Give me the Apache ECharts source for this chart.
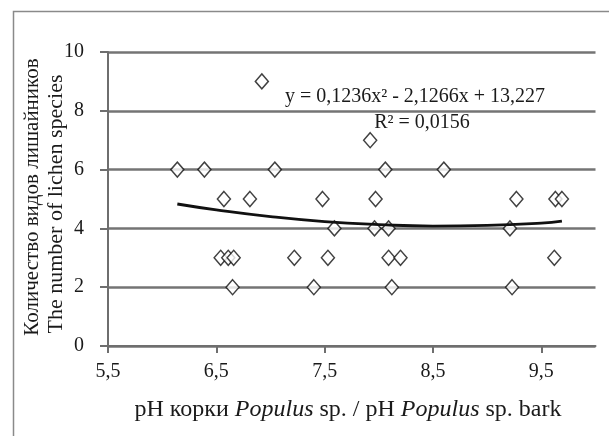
<!DOCTYPE html>
<html>
<head>
    <meta charset="utf-8">
    <title>ECharts</title>
    <script src="https://cdn.jsdelivr.net/npm/echarts@6/dist/echarts.min.js"></script>
</head>
<body style="margin:0;background:#fff;">
<div id="main" style="width: 609px;height:436px;"></div>
<script type="text/javascript">
  // pH коры и число видов лишайников
  var phValues = [6.92, 6.14, 6.39, 7.04, 8.06, 8.60, 7.92,
    6.57, 6.81, 7.48, 7.97, 9.27, 9.63, 9.69,
    7.59, 7.96, 8.09, 9.21,
    6.54, 6.61, 6.66, 7.22, 7.53, 8.09, 8.20, 9.62,
    6.65, 7.40, 8.12, 9.23];
  var speciesCounts = [9, 6, 6, 6, 6, 6, 7,
    5, 5, 5, 5, 5, 5, 5,
    4, 4, 4, 4,
    3, 3, 3, 3, 3, 3, 3, 3,
    2, 2, 2, 2];
  // линия тренда (полином 2-й степени), точки
  var trendX = [6.14, 6.5, 7.0, 7.5, 8.0, 8.5, 9.0, 9.5, 9.69];
  var trendY = [4.83, 4.63, 4.40, 4.23, 4.13, 4.08, 4.10, 4.18, 4.25];
  var xTicks = ['5,5', '6,5', '7,5', '8,5', '9,5'];
  var equationText = 'y = 0,1236x² - 2,1266x + 13,227';
  var r2Text = 'R² = 0,0156';

  var points = phValues.map(function (x, i) { return [x, speciesCounts[i]]; });
  var trend = trendX.map(function (x, i) { return [x, trendY[i]]; });

  var font = 'Liberation Serif';
  var myChart = echarts.init(document.getElementById('main'));

  option = {
    backgroundColor: '#fff',
    animation: false,
    grid: { left: 108, top: 52, right: 13.5, bottom: 90 },
    xAxis: {
      type: 'value',
      min: 5.5,
      max: 10,
      interval: 1,
      axisLine: { onZero: false, lineStyle: { color: '#6e6e6e', width: 2 } },
      axisTick: { show: true, inside: false, length: 7, lineStyle: { color: '#6e6e6e', width: 2 } },
      axisLabel: {
        color: '#1a1a1a', fontFamily: font, fontSize: 20, margin: 16,
        showMaxLabel: false,
        formatter: function (v) {
          var idx = Math.round(v - 5.5);
          return xTicks[idx] !== undefined ? xTicks[idx] : '';
        }
      },
      splitLine: { show: false }
    },
    yAxis: {
      type: 'value',
      min: 0,
      max: 10,
      interval: 2,
      axisLine: { show: true, lineStyle: { color: '#6e6e6e', width: 2 } },
      axisTick: { show: true, length: 8, lineStyle: { color: '#6e6e6e', width: 2 } },
      axisLabel: { color: '#1a1a1a', fontFamily: font, fontSize: 20, margin: 24 },
      splitLine: { show: true, lineStyle: { color: '#747474', width: 2.5 } }
    },
    graphic: [
      {
        type: 'rect', silent: true,
        shape: { x: 13.5, y: 11.5, width: 700, height: 500 },
        style: { fill: 'none', stroke: '#8a8a8a', lineWidth: 1.5 }
      },
      {
        type: 'text', x: 32, y: 197, rotation: Math.PI / 2,
        style: {
          text: 'Количество видов лишайников', font: '21px "Liberation Serif"',
          fill: '#1a1a1a', align: 'center', verticalAlign: 'middle'
        }
      },
      {
        type: 'text', x: 56, y: 204, rotation: Math.PI / 2,
        style: {
          text: 'The number of lichen species', font: '22px "Liberation Serif"',
          fill: '#1a1a1a', align: 'center', verticalAlign: 'middle'
        }
      },
      {
        type: 'text', x: 348, y: 410,
        style: {
          text: 'pH корки {i|Populus} sp. / pH {i|Populus} sp. bark',
          font: '24px "Liberation Serif"', fill: '#1a1a1a',
          align: 'center', verticalAlign: 'middle',
          rich: { i: { fontStyle: 'italic', fontFamily: font, fontSize: 24, fill: '#1a1a1a' } }
        }
      },
      {
        type: 'text', x: 415, y: 97, z: 10,
        style: {
          text: equationText, font: '20px "Liberation Serif"',
          fill: '#1a1a1a', align: 'center', verticalAlign: 'middle'
        }
      },
      {
        type: 'text', x: 422, y: 123, z: 10,
        style: {
          text: r2Text, font: '20px "Liberation Serif"',
          fill: '#1a1a1a', align: 'center', verticalAlign: 'middle'
        }
      }
    ],
    series: [
      {
        type: 'scatter',
        data: points,
        symbol: 'diamond',
        symbolSize: [13, 15],
        itemStyle: { color: '#fff', borderColor: '#111', borderWidth: 1.5 },
        z: 2
      },
      {
        type: 'line',
        data: trend,
        smooth: true,
        showSymbol: false,
        lineStyle: { color: '#111', width: 2.8 },
        z: 3
      }
    ]
  };
  myChart.setOption(option);
</script>
</body>
</html>
